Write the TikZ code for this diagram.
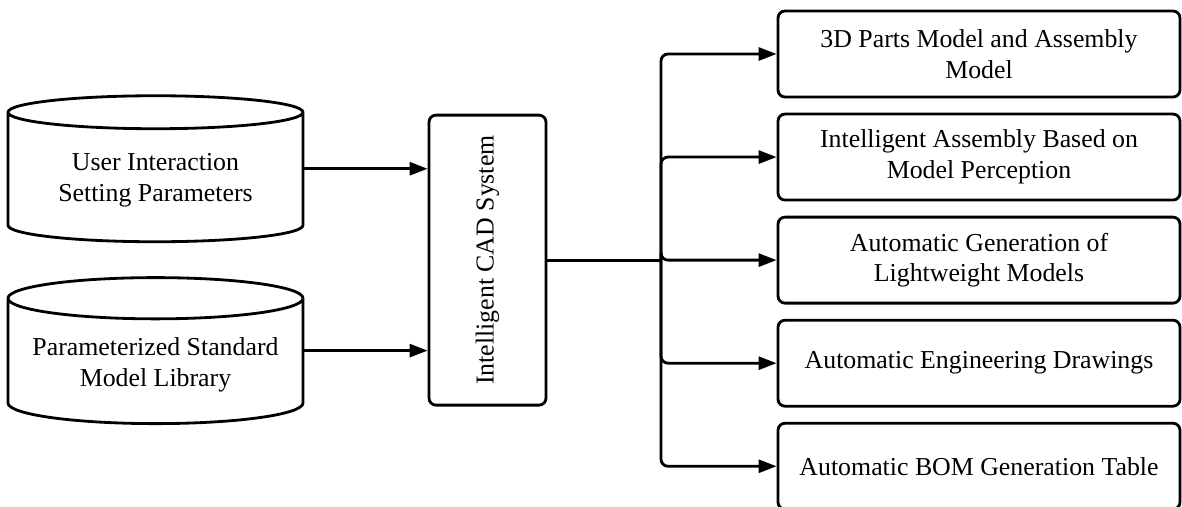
\documentclass[tikz,border=0pt]{standalone}
\usepackage{fontspec}
\setmainfont{Liberation Serif}
\usetikzlibrary{shapes.geometric,positioning,arrows.meta}

\begin{document}
\begin{tikzpicture}[
  font=\fontsize{14.7}{17.5}\selectfont,
  line width=1.6pt,
  db/.style={draw, cylinder, shape border rotate=90, aspect=0.16,
    minimum width=5.9cm, minimum height=2.92cm, align=center},
  sys/.style={draw, rounded corners=4pt, minimum width=2.34cm, minimum height=5.8cm},
  result/.style={draw, rounded corners=4pt, minimum width=8.04cm, minimum height=1.72cm, align=center},
  arr/.style={-{Triangle[length=0.36cm,width=0.26cm]}, rounded corners=4pt}
]
  \useasboundingbox (0,0) rectangle (23.64,10.12);

  % outputs
  \node[result] (res1) at (19.58,9.04) {3D Parts Model and Assembly\\Model};
  \node[result, below=0.285cm of res1] (res2) {Intelligent Assembly Based on\\Model Perception};
  \node[result, below=0.285cm of res2] (res3) {Automatic Generation of\\Lightweight Models};
  \node[result, below=0.285cm of res3] (res4) {Automatic Engineering Drawings};
  \node[result, below=0.285cm of res4] (res5) {Automatic BOM Generation Table};

  % inputs
  \node[db] (user) at (3.11,6.52) {User Interaction\\Setting Parameters};
  \node[db] (lib) at (3.11,2.83) {Parameterized Standard\\Model Library};

  % core system
  \node[sys] (cad) at (9.75,0 |- res3.west) {};
  \node[rotate=90] at (cad.center) {Intelligent CAD System};

  \draw[arr] (user.east |- user.shape center) -- (user.shape center -| cad.west);
  \draw[arr] (lib.east |- lib.shape center) -- (lib.shape center -| cad.west);

  \coordinate (split) at (13.22,0 |- cad.east);
  \draw (cad.east) -- (split);
  \foreach \i in {1,...,5}
    \draw[arr] (split) |- (res\i.west);
\end{tikzpicture}
\end{document}
